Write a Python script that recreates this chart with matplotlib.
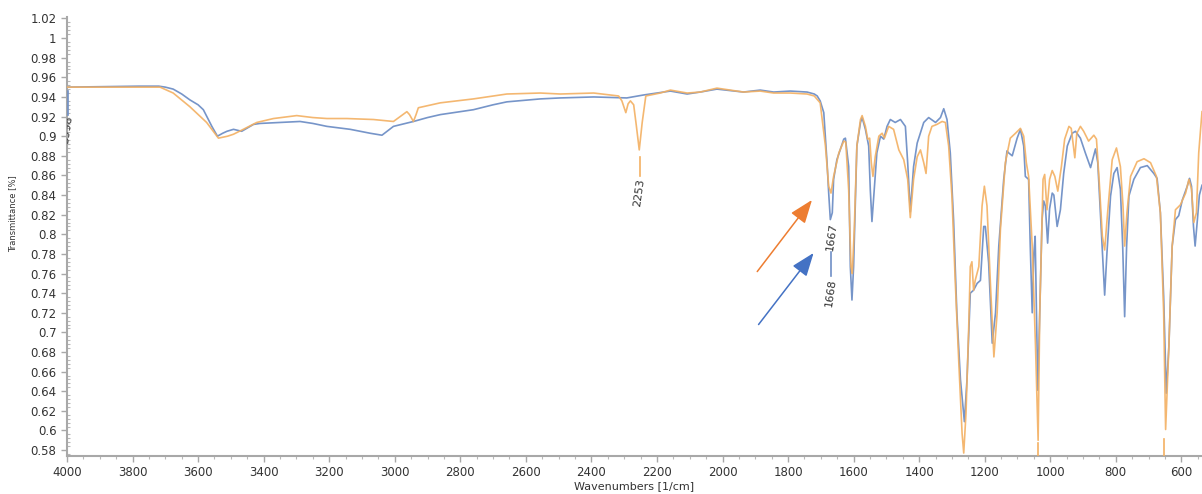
import numpy as np
import matplotlib
matplotlib.use("Agg")
import matplotlib.pyplot as plt
from matplotlib.ticker import MultipleLocator, FuncFormatter, AutoMinorLocator

# ---------------- data ----------------
blue_wn = [4000, 3780, 3720, 3700, 3676, 3650, 3625, 3600, 3584, 3558, 3541, 3525, 3512, 3492,
           3467, 3431, 3411, 3350, 3289, 3250, 3207, 3136, 3075, 3039, 3004, 2943, 2900, 2861,
           2760, 2700, 2658, 2556, 2495, 2393, 2292, 2241, 2159, 2108, 2068, 2017, 1936, 1885,
           1844, 1793, 1742, 1720, 1711, 1702, 1691, 1681, 1676, 1671, 1665, 1661, 1651, 1630,
           1625, 1615, 1610, 1605, 1600, 1590, 1579, 1574, 1564, 1554, 1549, 1544, 1537, 1529,
           1518, 1508, 1498, 1488, 1473, 1457, 1442, 1435, 1427, 1417, 1406, 1386, 1371, 1350,
           1335, 1325, 1315, 1305, 1295, 1285, 1274, 1262, 1254, 1244, 1234, 1223, 1213, 1203,
           1198, 1188, 1177, 1167, 1157, 1142, 1132, 1127, 1116, 1101, 1091, 1081, 1076, 1066,
           1061, 1055, 1050, 1046, 1042, 1038, 1032, 1025, 1020, 1015, 1008, 1002, 994, 989,
           979, 969, 959, 948, 933, 923, 908, 893, 877, 862, 855, 847, 839, 834, 827, 816, 806,
           796, 786, 779, 773, 767, 760, 745, 725, 704, 684, 674, 664, 654, 646, 638, 628, 618,
           608, 597, 582, 575, 569, 563, 558, 551, 545, 537]
blue_t = [0.950, 0.951, 0.951, 0.950, 0.948, 0.943, 0.937, 0.932, 0.927, 0.910, 0.900, 0.903, 0.905, 0.907,
          0.905, 0.912, 0.913, 0.914, 0.915, 0.913, 0.910, 0.907, 0.903, 0.901, 0.910, 0.915, 0.919, 0.922,
          0.927, 0.932, 0.935, 0.938, 0.939, 0.940, 0.939, 0.942, 0.946, 0.943, 0.945, 0.948, 0.945, 0.947,
          0.945, 0.946, 0.945, 0.943, 0.941, 0.936, 0.924, 0.873, 0.842, 0.815, 0.822, 0.856, 0.876, 0.897,
          0.898, 0.869, 0.767, 0.733, 0.767, 0.890, 0.914, 0.919, 0.907, 0.890, 0.845, 0.813, 0.845, 0.883,
          0.900, 0.897, 0.910, 0.917, 0.914, 0.917, 0.910, 0.873, 0.823, 0.869, 0.893, 0.914, 0.919, 0.914,
          0.919, 0.928, 0.917, 0.883, 0.815, 0.720, 0.652, 0.609, 0.652, 0.740, 0.743, 0.750, 0.753, 0.808,
          0.808, 0.771, 0.689, 0.720, 0.788, 0.856, 0.885, 0.883, 0.880, 0.898, 0.907, 0.890, 0.859, 0.856,
          0.788, 0.720, 0.781, 0.798, 0.720, 0.641, 0.720, 0.815, 0.834, 0.829, 0.791, 0.826, 0.842, 0.840,
          0.808, 0.825, 0.862, 0.890, 0.903, 0.905, 0.898, 0.883, 0.868, 0.887, 0.873, 0.822, 0.771, 0.738, 0.781, 0.839, 0.862,
          0.868, 0.846, 0.788, 0.716, 0.788, 0.839, 0.856, 0.868, 0.870, 0.862, 0.857, 0.822, 0.737, 0.638, 0.686, 0.788, 0.815,
          0.819, 0.835, 0.849, 0.857, 0.849, 0.808, 0.788, 0.815, 0.840, 0.850]

orange_wn = [4000, 3720, 3716, 3676, 3625, 3574, 3538, 3510, 3492, 3462, 3421, 3370, 3299, 3250,
             3207, 3146, 3065, 3004, 2975, 2963, 2955, 2943, 2935, 2928, 2861, 2760, 2658, 2556,
             2495, 2393, 2317, 2307, 2295, 2288, 2281, 2271, 2263, 2254, 2245, 2234, 2190, 2159,
             2108, 2068, 2017, 1936, 1885, 1844, 1793, 1742, 1720, 1702, 1686, 1676, 1669, 1661,
             1645, 1630, 1624, 1615, 1608, 1604, 1598, 1590, 1579, 1574, 1564, 1557, 1551, 1546,
             1541, 1534, 1523, 1513, 1506, 1493, 1478, 1462, 1447, 1435, 1427, 1417, 1406, 1396,
             1386, 1379, 1371, 1361, 1346, 1330, 1320, 1310, 1300, 1290, 1279, 1269, 1264, 1257,
             1249, 1244, 1239, 1234, 1229, 1218, 1208, 1201, 1193, 1183, 1172, 1162, 1152, 1137,
             1122, 1106, 1091, 1081, 1073, 1066, 1055, 1045, 1037, 1032, 1022, 1017, 1010, 1002,
             994, 986, 977, 966, 956, 943, 936, 925, 919, 908, 898, 883, 867, 859, 851, 841, 834,
             825, 811, 798, 786, 778, 773, 766, 755, 735, 714, 694, 676, 664, 654, 648, 638, 628,
             618, 603, 587, 577, 569, 562, 554, 547, 537]
orange_t = [0.950, 0.950, 0.950, 0.944, 0.930, 0.914, 0.898, 0.900, 0.902, 0.907, 0.914, 0.918, 0.921, 0.919,
            0.918, 0.918, 0.917, 0.915, 0.922, 0.925, 0.922, 0.915, 0.922, 0.929, 0.934, 0.938, 0.943, 0.944,
            0.943, 0.944, 0.941, 0.936, 0.924, 0.933, 0.936, 0.932, 0.911, 0.886, 0.914, 0.941, 0.944, 0.947,
            0.944, 0.945, 0.949, 0.945, 0.946, 0.944, 0.944, 0.943, 0.941, 0.934, 0.890, 0.849, 0.842, 0.859,
            0.883, 0.895, 0.894, 0.845, 0.767, 0.760, 0.805, 0.890, 0.917, 0.921, 0.910, 0.897, 0.898, 0.873,
            0.859, 0.879, 0.900, 0.903, 0.898, 0.910, 0.907, 0.886, 0.876, 0.856, 0.817, 0.856, 0.879, 0.886,
            0.873, 0.862, 0.900, 0.910, 0.912, 0.915, 0.914, 0.890, 0.839, 0.753, 0.669, 0.597, 0.577, 0.618,
            0.703, 0.767, 0.772, 0.743, 0.753, 0.767, 0.829, 0.849, 0.829, 0.753, 0.675, 0.720, 0.805, 0.873,
            0.898, 0.903, 0.908, 0.900, 0.873, 0.859, 0.788, 0.686, 0.590, 0.720, 0.856, 0.861, 0.825, 0.856,
            0.865, 0.859, 0.844, 0.869, 0.897, 0.910, 0.908, 0.878, 0.903, 0.910, 0.905, 0.895, 0.901, 0.897, 0.856, 0.798, 0.784,
            0.822, 0.876, 0.888, 0.869, 0.829, 0.788, 0.822, 0.859, 0.874, 0.877, 0.873, 0.859, 0.822, 0.720, 0.601, 0.686, 0.788,
            0.825, 0.830, 0.842, 0.856, 0.846, 0.812, 0.822, 0.883, 0.925]

# peak labels: (wavenumber, text, marker top, marker bottom, text centre)
blue_peaks = [(3998, "3998", 0.946, 0.922, 0.907), (1668, "1668", 0.782, 0.757, 0.740)]
orange_peaks = [(2253, "2253", 0.879, 0.859, 0.842), (1667, "1667", None, None, 0.798)]
orange_offaxis_peaks = [(1037, 0.587), (654, 0.591)]

# annotation arrows: (tail wn, tail T, head wn, head T)
arrow_orange = (1894, 0.762, 1727, 0.835)
arrow_blue = (1890, 0.708, 1722, 0.781)

x_ticks = list(range(4000, 599, -200))
y_ticks = [round(0.58 + 0.02 * i, 2) for i in range(23)]

BLUE = "#6f8fc6"
ORANGE = "#f3b062"

fig = plt.figure(figsize=(12.02, 4.94), dpi=100)
ax = fig.add_axes([67 / 1202, 1 - 456 / 494, (1202 - 67) / 1202, (456 - 17) / 494])

ax.plot(blue_wn, blue_t, color=BLUE, lw=1.2, alpha=0.95, zorder=2)
ax.plot(orange_wn, orange_t, color=ORANGE, lw=1.2, alpha=0.9, zorder=3)

txt_kw = dict(fontsize=8, color="#333333", rotation=82, ha="center", va="center",
              rotation_mode="anchor", clip_on=True, zorder=5)
for wn, lab, top, bot, tc in blue_peaks:
    ax.plot([wn, wn], [top, bot], color=BLUE, lw=1.2, zorder=4, clip_on=True)
    ax.text(wn, tc, lab, **txt_kw)
for wn, lab, top, bot, tc in orange_peaks:
    if top is not None:
        ax.plot([wn, wn], [top, bot], color=ORANGE, lw=1.2, zorder=4)
    ax.text(wn, tc, lab, **txt_kw)
for wn, top in orange_offaxis_peaks:
    ax.plot([wn, wn], [top, 0.55], color=ORANGE, lw=1.2, zorder=4, clip_on=True)

for (x0, y0, x1, y1), col in [(arrow_orange, "#ED7D31"), (arrow_blue, "#4472C4")]:
    ax.annotate("", xy=(x1, y1), xytext=(x0, y0),
                arrowprops=dict(arrowstyle="-|>,head_length=0.8,head_width=0.3",
                                mutation_scale=18, color=col, lw=1.1,
                                shrinkA=0, shrinkB=0), zorder=6)

ax.set_xlim(4000, 537)
ax.set_ylim(0.574, 1.0215)
ax.set_xticks(x_ticks)
ax.set_yticks(y_ticks)
ax.xaxis.set_minor_locator(MultipleLocator(50))
ax.yaxis.set_minor_locator(AutoMinorLocator(5))
ax.yaxis.set_major_formatter(FuncFormatter(lambda v, p: f"{v:.2f}".rstrip("0").rstrip(".")))

for s in ["top", "right"]:
    ax.spines[s].set_visible(False)
for s in ["left", "bottom"]:
    ax.spines[s].set_color("#a8a8a8")
    ax.spines[s].set_linewidth(1.5)

ax.tick_params(axis="both", which="major", colors="#a8a8a8", labelcolor="#333333",
               labelsize=8.5, length=4, width=1)
ax.tick_params(axis="y", which="minor", colors="#b8b8b8", length=2, width=0.8, direction="in")
ax.tick_params(axis="x", which="minor", colors="#b8b8b8", length=2.5, width=0.8, direction="out")

ax.set_xlabel("Wavenumbers [1/cm]", fontsize=8, color="#333333", labelpad=1)
ax.set_ylabel("Transmittance [%]", fontsize=6, color="#333333")
ax.yaxis.set_label_coords(-(67 - 17) / 1135, 1 - (214 - 17) / 439)

fig.savefig("out.png", dpi=100)
